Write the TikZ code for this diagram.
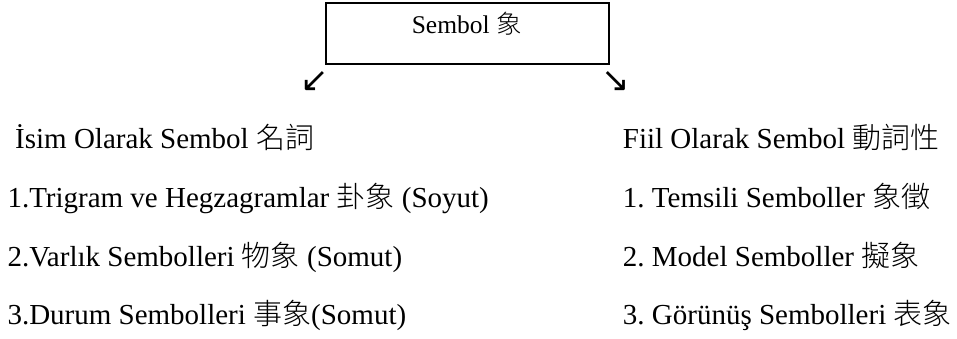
\documentclass[tikz,border=0pt]{standalone}
\usepackage{fontspec}
\setmainfont{Liberation Serif}
\IfFontExistsTF{Noto Sans CJK TC Light}
  {\newfontfamily\cjk{Noto Sans CJK TC Light}}
  {\newfontfamily\cjk{Noto Sans CJK TC}}
\newfontfamily\symfont{DejaVu Sans}
\frenchspacing
\begin{document}
\begin{tikzpicture}[x=1pt,y=-1pt,
  txt/.style={inner sep=0pt,anchor=base west,font=\fontsize{29}{33}\selectfont},
  titletxt/.style={inner sep=0pt,anchor=base,font=\fontsize{25.5}{30}\selectfont},
  boxstyle/.style={draw,line width=1.8pt,inner sep=0pt,minimum width=282.5pt,minimum height=60.5pt},
  arrowglyph/.style={inner sep=0pt,font=\symfont\fontsize{34}{36}\selectfont}]
\useasboundingbox (0,0) rectangle (957,338);
\node[boxstyle] (box) at (467.5,33.5) {};
\node[titletxt] (title) at (466.7,33.3) {Sembol {\cjk 象}};
\node[arrowglyph] (al) at (315,82) {↙};
\node[arrowglyph] (ar) at (616,82) {↘};
\node[txt] (l0) at (15,148) {İsim Olarak Sembol {\cjk 名詞}};
\node[txt] (l1) at (7.3,207) {1.Trigram ve Hegzagramlar {\cjk 卦象} (Soyut)};
\node[txt] (l2) at (7.3,266) {2.Varlık Sembolleri {\cjk 物象} (Somut)};
\node[txt] (l3) at (7.3,324) {3.Durum Sembolleri {\cjk 事象}(Somut)};
\node[txt] (r0) at (622.7,148) {Fiil Olarak Sembol {\cjk 動詞性}};
\node[txt] (r1) at (622.7,207) {1. Temsili Semboller {\cjk 象徵}};
\node[txt] (r2) at (622.7,266) {2. Model Semboller {\cjk 擬象}};
\node[txt] (r3) at (622.7,324) {3. Görünüş Sembolleri {\cjk 表象}};
\end{tikzpicture}
\end{document}
